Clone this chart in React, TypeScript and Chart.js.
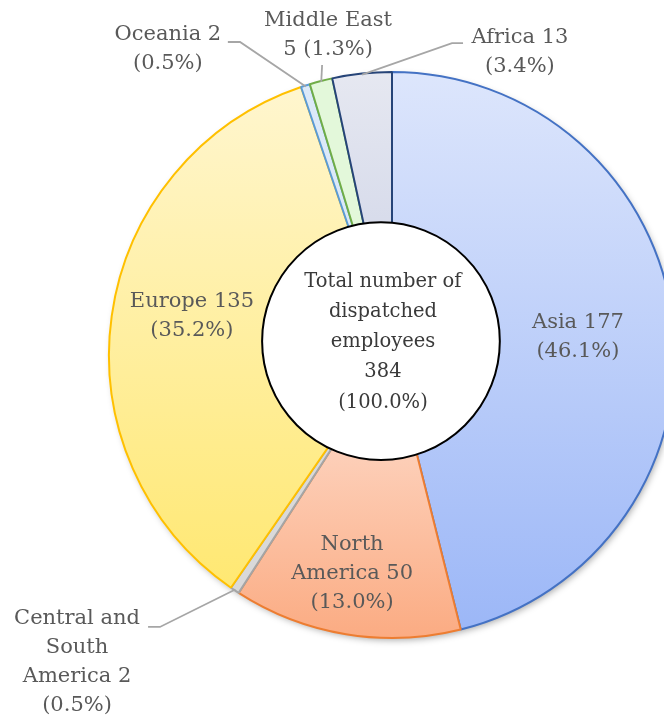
import React, { useEffect, useRef } from "react";
import { Chart, registerables } from "chart.js";

Chart.register(...registerables);

// ---------- data ----------
const categories = [
  "Asia",
  "North America",
  "Central and South America",
  "Europe",
  "Oceania",
  "Middle East",
  "Africa",
];
const employees = [177, 50, 2, 135, 2, 5, 13];
const nameLines = [
  ["Asia"],
  ["North", "America"],
  ["Central and", "South", "America"],
  ["Europe"],
  ["Oceania"],
  ["Middle East"],
  ["Africa"],
];
const valueOnOwnLine = [false, false, false, false, false, true, false];
const centerTitle = ["Total number of", "dispatched", "employees"];

// ---------- styles ----------
const fillTop = ["#dde6fc", "#fee2d5", "#d9d9d9", "#fff6cf", "#dce9f8", "#e3f8da", "#e6e8f1"];
const fillBottom = ["#9cb7f7", "#fbab82", "#d9d9d9", "#ffe872", "#dce9f8", "#e3f8da", "#cbd1e6"];
const borderColors = ["#4472c4", "#ed7d31", "#a5a5a5", "#ffc000", "#5b9bd5", "#70ad47", "#264478"];

// label layout, in units of the outer radius relative to the pie centre
const labelPos = [
  [0.657, -0.062],
  [-0.141, 0.774],
  [-1.113, 1.085],
  [-0.707, -0.138],
  [-0.792, -1.081],
  [-0.226, -1.129],
  [0.452, -1.072],
];
const leaderPts: (number[][] | null)[] = [
  null,
  null,
  [[-0.82, 0.961], [-0.862, 0.961]],
  null,
  [[-0.537, -1.106], [-0.58, -1.106]],
  [[-0.247, -1.025]],
  [[0.212, -1.102], [0.251, -1.102]],
];
const centerCircle = { dx: -0.039, dy: -0.049, r: 0.42 };

const LABEL_FONT = "21px 'DejaVu Serif'";
const CENTER_FONT = "19.5px 'DejaVu Serif'";
const LINE_H = 29;
const CENTER_LINE_H = 30.3;

const total = employees.reduce((a, b) => a + b, 0);

function labelLines(i: number): string[] {
  const pct = `(${((employees[i] / total) * 100).toFixed(1)}%)`;
  const names = nameLines[i].slice();
  if (valueOnOwnLine[i]) return [...names, `${employees[i]} ${pct}`];
  names[names.length - 1] += ` ${employees[i]}`;
  return [...names, pct];
}

const decorPlugin = {
  id: "decor",
  beforeDatasetsDraw(chart: any) {
    const arc = chart.getDatasetMeta(0).data[0];
    if (!arc) return;
    const { x, y, outerRadius } = arc.getProps(["x", "y", "outerRadius"], true);
    const ctx = chart.ctx;
    ctx.save();
    ctx.shadowColor = "rgba(0,0,0,0.35)";
    ctx.shadowBlur = 7;
    ctx.shadowOffsetX = 2;
    ctx.shadowOffsetY = 3;
    ctx.fillStyle = "#ffffff";
    ctx.beginPath();
    ctx.arc(x, y, outerRadius - 1, 0, Math.PI * 2);
    ctx.fill();
    ctx.restore();
  },
  afterDatasetsDraw(chart: any) {
    const meta = chart.getDatasetMeta(0);
    const arcs = meta.data;
    if (!arcs.length) return;
    const { x: cx, y: cy, outerRadius: R } = arcs[0].getProps(["x", "y", "outerRadius"], true);
    const ctx = chart.ctx;
    ctx.save();

    // leader lines
    ctx.strokeStyle = "#a6a6a6";
    ctx.lineWidth = 1.8;
    arcs.forEach((a: any, i: number) => {
      const pts = leaderPts[i];
      if (!pts) return;
      const p = a.getProps(["startAngle", "endAngle"], true);
      const mid = (p.startAngle + p.endAngle) / 2;
      ctx.beginPath();
      ctx.moveTo(cx + Math.cos(mid) * (R - 1), cy + Math.sin(mid) * (R - 1));
      pts.forEach((q) => ctx.lineTo(cx + q[0] * R, cy + q[1] * R));
      ctx.stroke();
    });

    // labels
    ctx.font = LABEL_FONT;
    ctx.fillStyle = "#595959";
    ctx.textAlign = "center";
    ctx.textBaseline = "middle";
    categories.forEach((_, i) => {
      const lines = labelLines(i);
      const bx = cx + labelPos[i][0] * R;
      const by = cy + labelPos[i][1] * R;
      const start = by - ((lines.length - 1) * LINE_H) / 2;
      lines.forEach((t, k) => ctx.fillText(t, bx, start + k * LINE_H));
    });

    // centre circle
    const ccx = cx + centerCircle.dx * R;
    const ccy = cy + centerCircle.dy * R;
    ctx.beginPath();
    ctx.arc(ccx, ccy, centerCircle.r * R, 0, Math.PI * 2);
    ctx.fillStyle = "#ffffff";
    ctx.fill();
    ctx.lineWidth = 2;
    ctx.strokeStyle = "#000000";
    ctx.stroke();

    const cLines = [...centerTitle, String(total), "(100.0%)"];
    ctx.fillStyle = "#3a3a3a";
    ctx.font = CENTER_FONT;
    const cStart = ccy + 1 - ((cLines.length - 1) * CENTER_LINE_H) / 2;
    cLines.forEach((t, k) => ctx.fillText(t, ccx + 2, cStart + k * CENTER_LINE_H));
    ctx.restore();
  },
};

export default function App() {
  const ref = useRef<HTMLCanvasElement>(null);
  useEffect(() => {
    if (!ref.current) return;
    const chart = new Chart(ref.current, {
      type: "pie",
      data: {
        labels: categories,
        datasets: [
          {
            data: employees,
            backgroundColor: (c: any) => {
              const i = c.dataIndex;
              const area = c.chart.chartArea;
              if (!area) return fillTop[i];
              const cy = (area.top + area.bottom) / 2;
              const R = Math.min(area.width, area.height) / 2;
              let cum = 0;
              for (let j = 0; j < i; j++) cum += employees[j];
              const a0 = (cum / total) * Math.PI * 2;
              const a1 = ((cum + employees[i]) / total) * Math.PI * 2;
              const ys = [cy, cy - R * Math.cos(a0), cy - R * Math.cos(a1)];
              if (a0 <= 1e-9 || a1 >= Math.PI * 2 - 1e-9) ys.push(cy - R);
              if (a0 <= Math.PI && a1 >= Math.PI) ys.push(cy + R);
              const y0 = Math.min(...ys);
              const y1 = Math.max(...ys);
              const g = c.chart.ctx.createLinearGradient(0, y0, 0, y1);
              g.addColorStop(0, fillTop[i]);
              g.addColorStop(1, fillBottom[i]);
              return g;
            },
            borderColor: borderColors,
            borderWidth: 2,
          },
        ],
      },
      options: {
        responsive: false,
        animation: false,
        layout: { padding: { top: 71, bottom: 78, left: 0, right: 0 } },
        plugins: {
          legend: { display: false },
          tooltip: { enabled: false },
        },
      },
      plugins: [decorPlugin],
    });
    return () => chart.destroy();
  }, []);

  return (
    <div
      style={{
        position: "fixed",
        left: 0,
        top: 0,
        width: 664,
        height: 717,
        overflow: "hidden",
        background: "#ffffff",
      }}
    >
      <canvas ref={ref} width={784} height={717} style={{ display: "block" }} />
    </div>
  );
}
